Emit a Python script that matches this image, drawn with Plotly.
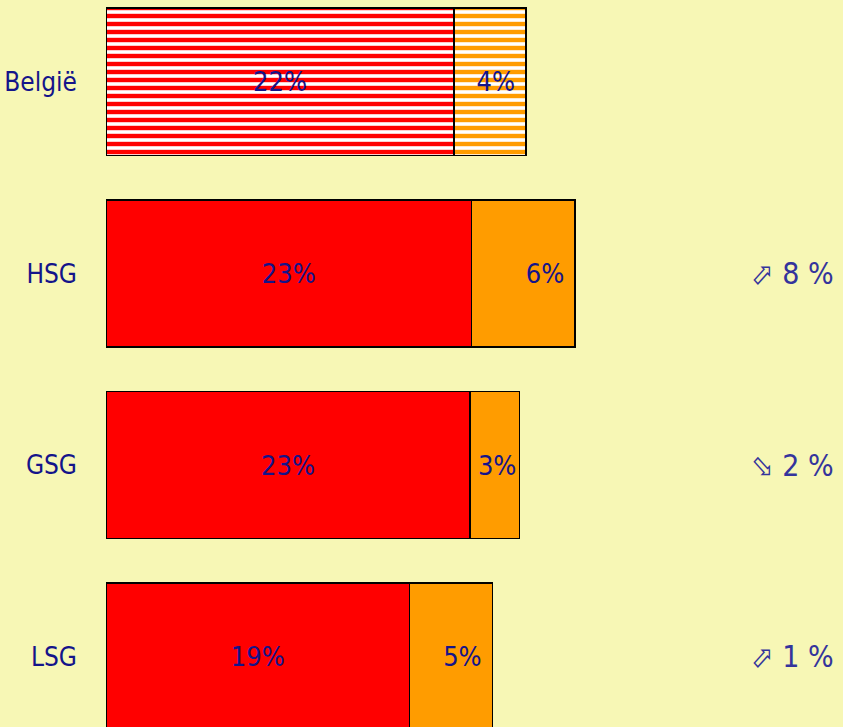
import plotly.graph_objects as go

# data
categories = ["België", "HSG", "GSG", "LSG"]
share_main = [21.9, 23.0, 22.9, 19.1]
share_extra = [4.5, 6.5, 3.1, 5.2]
labels_main = ["22%", "23%", "23%", "19%"]
labels_extra = ["4%", "6%", "3%", "5%"]
trend_cats = ["HSG", "GSG", "LSG"]
trend_text = ["⬀ 8 %", "⬂ 2 %", "⬀ 1 %"]

BG = "#f7f7b5"
NAVY = "#14148a"
FONT = "DejaVu Sans Condensed, Liberation Sans Narrow, sans-serif"

# only the first bar (België) gets the striped pattern
shapes_main = ["-"] + [""] * (len(categories) - 1)
stripes = dict(shape=shapes_main, fgcolor="white", fgopacity=1, size=8, solidity=0.45)

# a trailing no-break space keeps wider labels off the bar's right edge
extra_text = [t + "\u00a0" if v >= 4 else t for t, v in zip(labels_extra, share_extra)]

fig = go.Figure()
fig.add_trace(go.Bar(
    y=categories, x=share_main, orientation="h",
    text=labels_main, textposition="inside", insidetextanchor="middle", textangle=0,
    textfont=dict(family=FONT, size=27, color=NAVY),
    marker=dict(color="#ff0000", line=dict(color="black", width=1.5), pattern=stripes),
    width=0.77, showlegend=False, hoverinfo="skip",
))
fig.add_trace(go.Bar(
    y=categories, x=share_extra, orientation="h",
    text=extra_text, textposition="inside", insidetextanchor="end", textangle=0,
    textfont=dict(family=FONT, size=27, color=NAVY),
    marker=dict(color="#ff9c00", line=dict(color="black", width=1.5), pattern=stripes),
    width=0.77, showlegend=False, hoverinfo="skip",
))

for cat, txt in zip(trend_cats, trend_text):
    fig.add_annotation(
        x=0.99, xref="paper", y=cat, yref="y", text=txt, showarrow=False,
        xanchor="right", yanchor="middle",
        font=dict(family=FONT, size=30, color="#34349c"),
    )

fig.update_layout(
    barmode="stack",
    width=843, height=727,
    margin=dict(l=106, r=0, t=0, b=0),
    paper_bgcolor=BG, plot_bgcolor=BG,
    bargap=0.23,
)
fig.update_xaxes(range=[0, 46.35], visible=False, fixedrange=True)
fig.update_yaxes(
    range=[3.368, -0.428], showgrid=False, zeroline=False, showline=False,
    ticks="", ticklabelstandoff=28,
    tickfont=dict(family=FONT, size=26, color=NAVY), fixedrange=True,
)

# drop the page margin so the chart sits flush in the window
fix_page = (
    "document.body.style.margin='0';document.body.style.overflow='hidden';"
    "document.body.style.background='" + BG + "';"
    "Plotly.relayout(document.getElementById('{plot_id}'),{width:843,height:727});"
)
fig.write_html("out.html", post_script=fix_page, config={"displayModeBar": False})
